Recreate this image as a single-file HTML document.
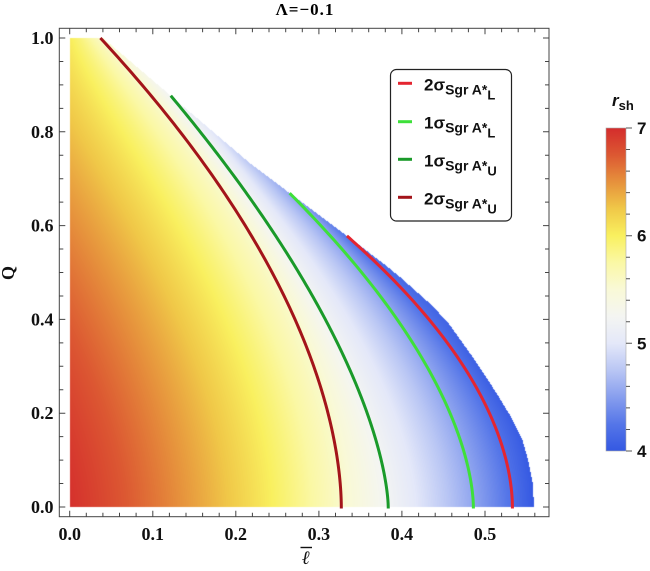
<!DOCTYPE html>
<html>
<head>
<meta charset="utf-8">
<style>
html,body{margin:0;padding:0;background:#fff;}
#wrap{position:relative;width:650px;height:571px;overflow:hidden;background:#fff;}
#cv{position:absolute;left:0;top:0;}
#sv{position:absolute;left:0;top:0;}
</style>
</head>
<body>
<div id="wrap">
<canvas id="cv" width="650" height="571"></canvas>
<svg id="sv" width="650" height="571" viewBox="0 0 650 571" xmlns="http://www.w3.org/2000/svg">
<defs>
<linearGradient id="fbg" gradientUnits="userSpaceOnUse" x1="69.7" y1="0" x2="534" y2="0">
<stop offset="0" stop-color="rgb(212,48,46)"/>
<stop offset="0.2" stop-color="rgb(230,150,60)"/>
<stop offset="0.438" stop-color="rgb(249,240,95)"/>
<stop offset="0.585" stop-color="rgb(249,249,210)"/>
<stop offset="0.686" stop-color="rgb(236,238,247)"/>
<stop offset="0.869" stop-color="rgb(145,166,239)"/>
<stop offset="0.953" stop-color="rgb(85,118,232)"/>
<stop offset="1" stop-color="rgb(52,88,226)"/>
</linearGradient>
<linearGradient id="cbg" x1="0" y1="0" x2="0" y2="1">
<stop offset="0" stop-color="rgb(212,44,44)"/>
<stop offset="0.0833" stop-color="rgb(220,88,50)"/>
<stop offset="0.1667" stop-color="rgb(230,145,60)"/>
<stop offset="0.25" stop-color="rgb(240,200,72)"/>
<stop offset="0.3333" stop-color="rgb(249,240,95)"/>
<stop offset="0.4167" stop-color="rgb(250,248,165)"/>
<stop offset="0.5" stop-color="rgb(249,249,215)"/>
<stop offset="0.5833" stop-color="rgb(244,245,242)"/>
<stop offset="0.6667" stop-color="rgb(228,232,249)"/>
<stop offset="0.75" stop-color="rgb(185,198,244)"/>
<stop offset="0.8333" stop-color="rgb(135,158,238)"/>
<stop offset="0.9167" stop-color="rgb(85,118,232)"/>
<stop offset="1" stop-color="rgb(52,88,226)"/>
</linearGradient>
</defs>

<!-- fallback field (removed by script) -->
<polygon id="fb" fill="url(#fbg)" points="69.7,507 69.7,38 102.9,38 170.6,95.7 249.9,163.2 289,193.2 346.7,235.9 382.8,263.1 416.1,291.3 448.4,323.2 475,361.6 499.1,400.1 522.4,439.9 531.5,474.2 534,507"/>

<!-- title -->
<text x="305" y="15" font-family="Liberation Serif, serif" font-weight="bold" font-size="17" text-anchor="middle" letter-spacing="1">Λ=−0.1</text>

<!-- frame -->
<rect x="59.3" y="28.3" width="489.7" height="488.4" fill="none" stroke="#444" stroke-width="1"/>

<!-- ticks -->
<g stroke="#444" stroke-width="1" fill="none">
<path d="M69.7 516.7v-6M152.8 516.7v-6M235.8 516.7v-6M318.9 516.7v-6M401.9 516.7v-6M485 516.7v-6"/>
<path d="M69.7 28.3v6M152.8 28.3v6M235.8 28.3v6M318.9 28.3v6M401.9 28.3v6M485 28.3v6"/>
<path d="M86.3 516.7v-4M102.9 516.7v-4M119.5 516.7v-4M136.1 516.7v-4M169.4 516.7v-4M186 516.7v-4M202.6 516.7v-4M219.2 516.7v-4M252.4 516.7v-4M269 516.7v-4M285.7 516.7v-4M302.3 516.7v-4M335.5 516.7v-4M352.1 516.7v-4M368.7 516.7v-4M385.3 516.7v-4M418.6 516.7v-4M435.2 516.7v-4M451.8 516.7v-4M468.4 516.7v-4M501.6 516.7v-4M518.2 516.7v-4M534.8 516.7v-4"/>
<path d="M86.3 28.3v4M102.9 28.3v4M119.5 28.3v4M136.1 28.3v4M169.4 28.3v4M186 28.3v4M202.6 28.3v4M219.2 28.3v4M252.4 28.3v4M269 28.3v4M285.7 28.3v4M302.3 28.3v4M335.5 28.3v4M352.1 28.3v4M368.7 28.3v4M385.3 28.3v4M418.6 28.3v4M435.2 28.3v4M451.8 28.3v4M468.4 28.3v4M501.6 28.3v4M518.2 28.3v4M534.8 28.3v4"/>
<path d="M59.3 507h6M59.3 413.2h6M59.3 319.4h6M59.3 225.6h6M59.3 131.8h6M59.3 38h6"/>
<path d="M549 507h-6M549 413.2h-6M549 319.4h-6M549 225.6h-6M549 131.8h-6M549 38h-6"/>
<path d="M59.3 483.55h4M59.3 460.1h4M59.3 436.65h4M59.3 389.75h4M59.3 366.3h4M59.3 342.85h4M59.3 295.95h4M59.3 272.5h4M59.3 249.05h4M59.3 202.15h4M59.3 178.7h4M59.3 155.25h4M59.3 108.35h4M59.3 84.9h4M59.3 61.45h4"/>
<path d="M549 483.55h-4M549 460.1h-4M549 436.65h-4M549 389.75h-4M549 366.3h-4M549 342.85h-4M549 295.95h-4M549 272.5h-4M549 249.05h-4M549 202.15h-4M549 178.7h-4M549 155.25h-4M549 108.35h-4M549 84.9h-4M549 61.45h-4"/>
</g>

<!-- tick labels -->
<g font-family="Liberation Serif, serif" font-weight="bold" font-size="18" fill="#111">
<g text-anchor="end">
<text x="53.5" y="513">0.0</text>
<text x="53.5" y="419.2">0.2</text>
<text x="53.5" y="325.4">0.4</text>
<text x="53.5" y="231.6">0.6</text>
<text x="53.5" y="137.8">0.8</text>
<text x="53.5" y="44">1.0</text>
</g>
<g text-anchor="middle">
<text x="69.7" y="540">0.0</text>
<text x="152.8" y="540">0.1</text>
<text x="235.8" y="540">0.2</text>
<text x="318.9" y="540">0.3</text>
<text x="401.9" y="540">0.4</text>
<text x="485" y="540">0.5</text>
</g>
</g>

<!-- axis labels -->
<text transform="translate(14,273) rotate(-90)" font-family="Liberation Serif, serif" font-weight="bold" font-size="18" text-anchor="middle" fill="#111">Q</text>
<text x="306" y="564" font-family="Liberation Serif, serif" font-style="italic" font-weight="bold" font-size="19" text-anchor="middle" fill="#111">ℓ</text>
<line x1="300.5" y1="547.5" x2="312" y2="547.5" stroke="#111" stroke-width="1.4"/>

<!-- contour curves (fallback polylines; replaced by smooth analytic paths via script) -->
<g id="curves" fill="none" stroke-width="3" stroke-linejoin="round" stroke-linecap="butt">
<polyline id="c0" stroke="#a3141a" points="100.4,38 140.3,84.9 170.2,120.1 191.8,150.6 212.6,180.1 237.5,216.2 257.4,246.7 283.2,289.9 294,313.3 306.4,342.9 318.9,379.9 327.2,413.2 335.5,446.5 338.4,460.1 340.6,483.6 341.3,508"/>
<polyline id="c1" stroke="#1a9a2a" points="170.6,95.7 217.5,155.25 249,191.8 270.7,225.6 293.1,263.1 315.6,300.2 333,330.2 348.8,363.5 364.6,399.1 375.4,432 382,463.4 387,483.6 388.2,508"/>
<polyline id="c2" stroke="#3ee03a" points="289.8,193.2 323.9,225.6 354.6,260.8 377.9,291.3 401.1,325 428.5,366.3 448.5,400.1 465.1,439.9 470.9,474.2 473.4,508"/>
<polyline id="c3" stroke="#e42530" points="346.7,235.9 375.4,263.1 402.8,289.9 427.7,319.4 450.1,346.6 468.4,375.7 482.5,400.1 500.8,439.9 509.1,474.2 512.4,508"/>
</g>

<!-- legend -->
<rect x="390.5" y="69.5" width="121" height="151.5" rx="6" ry="6" fill="#fff" stroke="#222" stroke-width="1.2"/>
<g stroke-width="3">
<line x1="398" y1="83.3" x2="412" y2="83.3" stroke="#e42530"/>
<line x1="398" y1="121.7" x2="412" y2="121.7" stroke="#3ee03a"/>
<line x1="398" y1="159.3" x2="412" y2="159.3" stroke="#1a9a2a"/>
<line x1="398" y1="197.3" x2="412" y2="197.3" stroke="#a3141a"/>
</g>
<g font-family="Liberation Sans, sans-serif" font-weight="bold" fill="#111">
<text x="424" y="90.3"><tspan font-size="17">2σ</tspan><tspan font-size="14" dy="4">Sgr A*</tspan><tspan font-size="13" dy="5">L</tspan></text>
<text x="424" y="128.7"><tspan font-size="17">1σ</tspan><tspan font-size="14" dy="4">Sgr A*</tspan><tspan font-size="13" dy="5">L</tspan></text>
<text x="424" y="166.3"><tspan font-size="17">1σ</tspan><tspan font-size="14" dy="4">Sgr A*</tspan><tspan font-size="13" dy="5">U</tspan></text>
<text x="424" y="204.3"><tspan font-size="17">2σ</tspan><tspan font-size="14" dy="4">Sgr A*</tspan><tspan font-size="13" dy="5">U</tspan></text>
</g>

<!-- colorbar -->
<rect x="606" y="128" width="20" height="323" fill="url(#cbg)" stroke="#aaa" stroke-width="0.6"/>
<g stroke="#555" stroke-width="1">
<path d="M626 451h6M626 343.3h6M626 235.7h6M626 128h6"/>
<path d="M626 429.5h4M626 407.9h4M626 386.4h4M626 364.9h4M626 321.8h4M626 300.3h4M626 278.7h4M626 257.2h4M626 214.1h4M626 192.6h4M626 171.1h4M626 149.5h4"/>
</g>
<g font-family="Liberation Sans, sans-serif" font-weight="bold" font-size="17" fill="#111">
<text x="637" y="134">7</text>
<text x="637" y="241.7">6</text>
<text x="637" y="349.3">5</text>
<text x="637" y="457">4</text>
</g>
<text x="612" y="106" font-family="Liberation Sans, sans-serif" font-weight="bold" fill="#111"><tspan font-size="17" font-style="italic">r</tspan><tspan font-size="13" dy="4">sh</tspan></text>
</svg>
</div>
<script>
(function(){
var X0=69.7,XS=830.6,Y0=507,YS=469;
var curves=[
 {r:5.56,L:.327,c:.887,n:1.8,qm:1.0},
 {r:5.22,L:.3835,c:.84,n:1.58,qm:.877},
 {r:4.55,L:.486,c:.905,n:1.71,qm:.669},
 {r:4.21,L:.533,c:1.036,n:1.86,qm:.578}
];
function lc(cu,Q){return cu.L*(1-cu.c*Math.pow(Math.max(Q,0),cu.n));}
var bnd=[[0,.559],[.05,.5575],[.1,.552],[.143,.545],[.19,.532],[.228,.519],[.27,.504],[.31,.489],[.35,.473],[.392,.456],[.43,.436],[.46,.417],[.49,.398],[.52,.377],[.578,.3338],[.62,.302],[.669,.265],[.733,.217],[.877,.1217],[1,.04]];
var brt=[[0,4.0],[.3,4.06],[.46,4.12],[.578,4.21],[.669,4.55],[.877,5.22],[1,5.56]];
function ip(t,q){
 if(q<=t[0][0])return t[0][1];
 for(var i=1;i<t.length;i++){
  if(q<=t[i][0]){var a=t[i-1],b=t[i],f=(q-a[0])/(b[0]-a[0]);return a[1]+f*(b[1]-a[1]);}
 }
 return t[t.length-1][1];
}
try{
var cm=[[4,52,88,226],[4.25,85,118,232],[4.5,135,158,238],[4.75,185,198,244],[5,228,232,249],[5.25,244,245,242],[5.5,249,249,215],[5.75,250,248,165],[6,249,240,95],[6.25,240,200,72],[6.5,230,145,60],[6.75,220,88,50],[7,212,44,44]];
function col(r){
 if(r<=cm[0][0])return [cm[0][1],cm[0][2],cm[0][3]];
 var n=cm.length;
 if(r>=cm[n-1][0])return [cm[n-1][1],cm[n-1][2],cm[n-1][3]];
 for(var i=1;i<n;i++){
  if(r<=cm[i][0]){var a=cm[i-1],b=cm[i],f=(r-a[0])/(b[0]-a[0]);
   return [a[1]+f*(b[1]-a[1]),a[2]+f*(b[2]-a[2]),a[3]+f*(b[3]-a[3])];}
 }
 return [0,0,0];
}
var cv=document.getElementById('cv');
var ctx=cv.getContext('2d');
var x0=69,x1=537,y0=37,y1=508;
var W=x1-x0,H=y1-y0;
var img=ctx.createImageData(W,H);
var d=img.data;
for(var py=y0;py<y1;py++){
 var Q=(Y0-(py+0.5))/YS;
 if(Q>1||Q<0)continue;
 var lb=ip(bnd,Q),rb=ip(brt,Q),rL=6.97-0.95*Math.pow(Q,1.5);
 var ks=[[0,rL]];
 for(var ci=0;ci<curves.length;ci++){
  var cu=curves[ci];
  if(Q<=cu.qm){var l1=lc(cu,Q);if(l1<lb-1e-4&&l1>ks[ks.length-1][0])ks.push([l1,cu.r]);}
 }
 ks.push([lb,rb]);
 for(var px=x0;px<x1;px++){
  var l=(px+0.5-X0)/XS;
  if(l<0||l>lb)continue;
  var r=rb;
  if(l<=ks[1][0]){var t=l/ks[1][0];r=rL-(rL-ks[1][1])*(0.7*t+0.3*t*t);}
  else{
   for(var i=2;i<ks.length;i++){
    if(l<=ks[i][0]){var a=ks[i-1],b=ks[i];r=a[1]+(l-a[0])/(b[0]-a[0])*(b[1]-a[1]);break;}
   }
  }
  var cc=col(r),o=((py-y0)*W+(px-x0))*4;
  d[o]=cc[0];d[o+1]=cc[1];d[o+2]=cc[2];d[o+3]=255;
 }
}
ctx.putImageData(img,x0,y0);
var fb=document.getElementById('fb');
if(fb&&fb.parentNode)fb.parentNode.removeChild(fb);
}catch(e){}
try{
var NS="http://www.w3.org/2000/svg";
for(var k=0;k<curves.length;k++){
 var pl=document.getElementById('c'+k);
 var cu=curves[k];
 var s="";
 var N=120;
 for(var j=0;j<=N;j++){
  var Q=cu.qm*(1-j/N);
  var x=X0+XS*lc(cu,Q),y=Y0-YS*Q;
  s+=(j==0?"M":"L")+x.toFixed(2)+" "+y.toFixed(2);
 }
 s+="L"+(X0+XS*cu.L).toFixed(2)+" 508.5";
 var pa=document.createElementNS(NS,'path');
 pa.setAttribute('d',s);
 pa.setAttribute('stroke',pl.getAttribute('stroke'));
 pa.setAttribute('fill','none');
 pa.setAttribute('stroke-linejoin','round');
 pl.parentNode.replaceChild(pa,pl);
}
}catch(e){}
})();
</script>
</body>
</html>
